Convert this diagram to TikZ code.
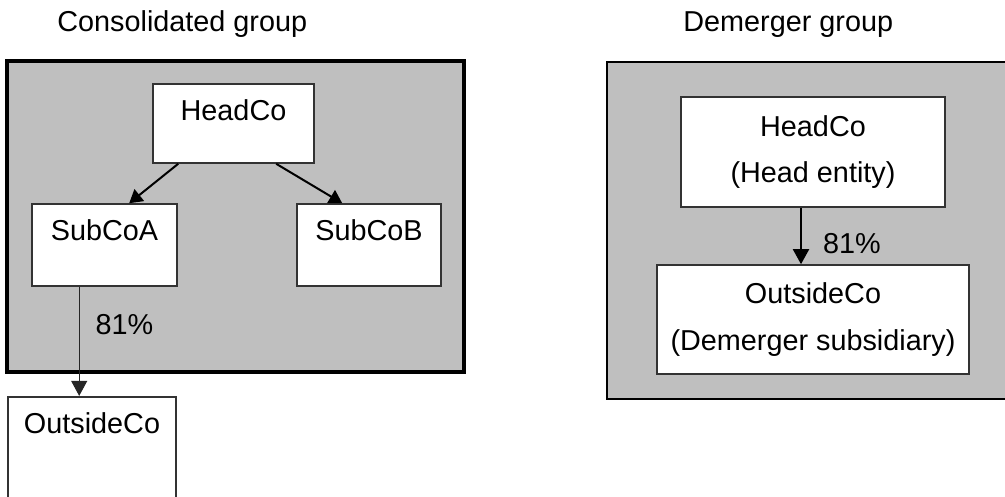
\documentclass[tikz,border=0pt]{standalone}
\usepackage{fontspec}
\setmainfont{Liberation Sans}
\usetikzlibrary{calc, arrows.meta}

\begin{document}
\begin{tikzpicture}[
  x=0.5pt, y=-0.5pt,
  font=\fontsize{14.4}{23.4}\selectfont,
  group/.style={draw=black, fill=black!25, inner sep=0pt},
  entity/.style={draw=black!80, fill=white, line width=0.8pt, inner sep=0pt, align=center},
  toptext/.style={text height=18.2pt, text depth=#1},
  owns/.style={-{Triangle[length=6.5pt, width=7.5pt]}, line width=1pt},
  holding/.style={-{Triangle[length=7.5pt, width=8pt]}},
  pct/.style={inner sep=0pt, anchor=west},
]

% page size (pixels of the reference)
\useasboundingbox (0,0) rectangle (1005,497);
\clip (0,0) rectangle (1005,497);

% titles
\node[anchor=base west, inner sep=0pt] (titleL) at (57,32) {Consolidated group};
\node[anchor=base west, inner sep=0pt] (titleR) at (683,32) {Demerger group};

% grey group frames
\node[group, line width=1.8pt, minimum width=228.5pt, minimum height=155.5pt] (consol) at (235.5,216.5) {};
\node[group, line width=1.1pt, minimum width=205pt, minimum height=168.5pt] (demerg) at (812,230.5) {};

% consolidated group: HeadCo and its two subsidiaries
\node[entity, toptext=21.3pt, minimum width=80.5pt, minimum height=39.5pt] (HeadL) at (233.5,123.5) {HeadCo};
\node[entity, toptext=22.8pt, minimum width=72.5pt, minimum height=41pt] (SubA) at (104.5,245) {SubCoA};
\node[entity, toptext=22.8pt, minimum width=72pt, minimum height=41pt] (SubB) at (369,245) {SubCoB};

% OutsideCo below the frame (runs off the page)
\node[entity, toptext=53.6pt, minimum width=84pt, minimum height=71.5pt] (OutL) at (92,468.5) {OutsideCo};

% demerger group
\node[entity, minimum width=132pt, minimum height=55pt] (HeadR) at (813,152) {HeadCo\\(Head entity)};
\node[entity, minimum width=156pt, minimum height=54.5pt] (OutR) at (813,319.5) {OutsideCo\\(Demerger subsidiary)};

% ownership arrows
\draw[owns] ($(HeadL.south west)+(26,0)$) -- ($(SubA.north west)+(98,0)$);
\draw[owns] ($(HeadL.south west)+(124,0)$) -- ($(SubB.north west)+(46,0)$);

% 81% holding of OutsideCo
\coordinate (fromA) at ($(SubA.south west)+(48,0)$);
\draw[holding, line width=0.5pt, black!85] (fromA) -- (fromA |- OutL.north)
  node[pct, pos=0.35, xshift=8pt, black] (pctL) {81\%};
\coordinate (fromH) at ($(HeadR.south)+(-12,0)$);
\draw[holding, line width=1pt] (fromH) -- (fromH |- OutR.north)
  node[pct, pos=0.64, xshift=10.5pt] (pctR) {81\%};

\end{tikzpicture}
\end{document}
